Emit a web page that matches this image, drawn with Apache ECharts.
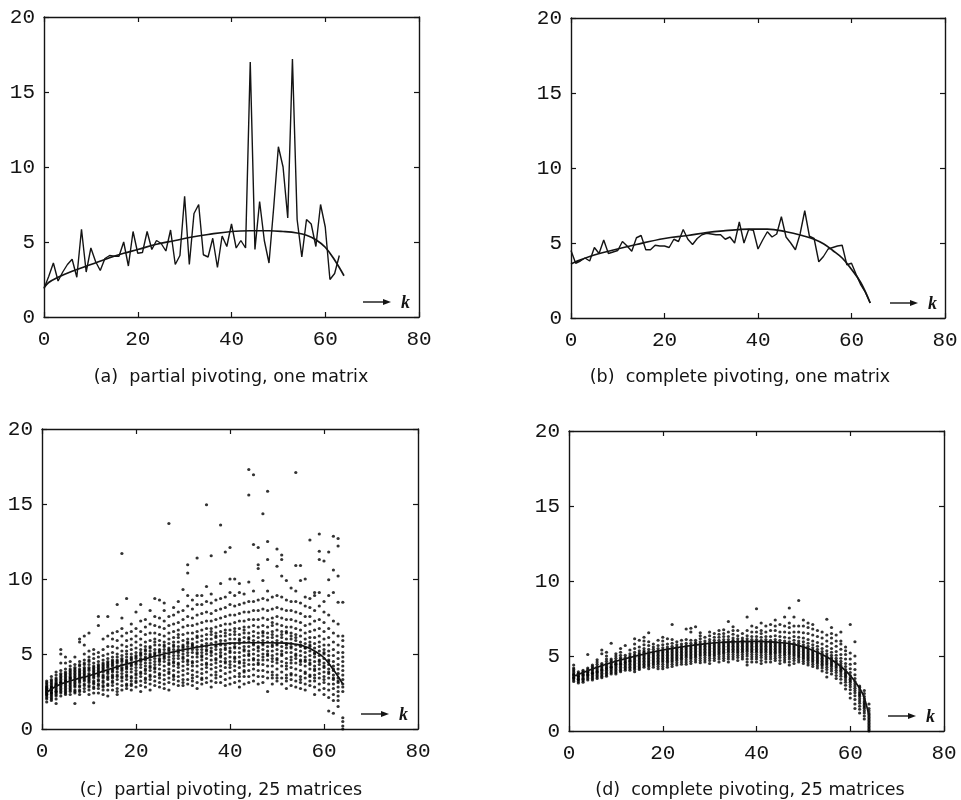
<!DOCTYPE html>
<html><head><meta charset="utf-8">
<script src="https://cdn.jsdelivr.net/npm/echarts@6/dist/echarts.min.js"></script>
<style>html,body{margin:0;padding:0;background:#fff}#c{width:961px;height:800px}</style>
</head><body><div id="c"></div>
<script>
// ---- tick labels ----
const xTicks = [0, 20, 40, 60, 80];
const yTicks = [0, 5, 10, 15, 20];
const captions = [
  '(a)  partial pivoting, one matrix',
  '(b)  complete pivoting, one matrix',
  '(c)  partial pivoting, 25 matrices',
  '(d)  complete pivoting, 25 matrices'
];
const axisName = 'k';

// ---- (a) partial pivoting, one matrix: values at k = 0..63 ----
const lineA = [1.9,2.7,3.6,2.4,3.0,3.5,3.85,2.65,5.85,3.0, 4.6,3.7,3.1,3.9,4.1,4.05,4.05,5.0,3.4,5.7,
  4.25,4.3,5.7,4.5,5.1,4.9,4.4,5.8,3.5,4.1, 8.05,3.5,6.9,7.5,4.15,4.0,5.25,3.3,5.4,4.7,
  6.2,4.6,5.1,4.6,17.0,4.5,7.7,5.1,3.6,7.3, 11.35,10.0,6.6,17.2,6.5,4.0,6.5,6.2,4.7,7.5,
  6.0,2.5,2.9,4.1];
const curveA_k = [0,1,3,6,10,14,17,20,24,28,31,35,40,44,48,51,54,56,58,60,62,64];
const curveA_v = [1.95,2.3,2.65,3.05,3.5,3.95,4.25,4.5,4.85,5.1,5.3,5.5,5.7,5.75,5.75,5.7,5.6,5.45,5.15,4.65,3.8,2.75];

// ---- (b) complete pivoting, one matrix: values at k = 0..64 ----
const lineB = [4.5,3.65,3.8,4.0,3.8,4.7,4.3,5.2,4.3,4.4, 4.5,5.1,4.8,4.45,5.35,5.5,4.55,4.55,4.85,4.8,
  4.8,4.7,5.25,5.1,5.9,5.25,4.9,5.3,5.55,5.65, 5.6,5.55,5.55,5.25,5.4,5.0,6.4,5.0,5.9,5.85,
  4.6,5.2,5.75,5.4,5.6,6.75,5.4,5.0,4.55,5.6, 7.15,5.45,5.3,3.75,4.1,4.6,4.7,4.8,4.85,3.55,
  3.65,2.9,2.2,1.7,1.0];
const curveB_k = [0,1,4,8,14,20,25,29,33,38,42,46,50,52,54,56,58,60,62,64];
const curveB_v = [3.6,3.75,4.1,4.45,4.9,5.3,5.5,5.7,5.82,5.92,5.92,5.75,5.45,5.25,4.95,4.5,4.0,3.25,2.35,1.0];

// ---- (c) partial pivoting, 25 matrices: one list per k = 1..64 ----
const dotsC = [
[2.0,2.2,2.3,2.4,2.5,2.5,2.6,2.7,2.8,2.9,3.0,3.1,2.1,2.4,2.6,2.8,1.8,3.2,2.3,2.7],
[2.1,2.3,2.4,2.6,2.7,2.8,2.9,3.0,3.2,3.3,2.5,2.2,2.0,3.5,2.6,2.8,1.9,3.1,2.4,2.7],
[1.7,2.2,2.4,2.5,2.7,2.9,3.0,3.1,3.3,3.4,3.6,2.6,2.8,2.3,3.2,2.0,3.8,2.9,2.5,3.0],
[2.2,2.5,2.7,2.9,3.1,3.2,3.4,3.5,3.7,3.9,4.4,5.0,5.3,2.8,3.0,3.3,2.4,3.6,2.6,3.1],
[2.3,2.6,2.8,3.0,3.2,3.3,3.5,3.6,3.8,4.0,4.4,4.8,2.5,2.9,3.1,3.4,2.7,3.7,2.4,3.2],
[2.3,2.5,2.8,3.0,3.2,3.4,3.5,3.7,3.9,4.2,4.5,2.6,2.9,3.3,3.6,2.7,3.1,3.8,4.0,3.4],
[1.7,2.4,2.6,2.9,3.1,3.3,3.5,3.7,3.9,4.1,4.3,4.8,2.8,3.0,3.4,3.6,2.5,3.2,3.8,4.0],
[2.3,2.6,2.9,3.1,3.3,3.5,3.6,3.8,4.0,4.2,4.5,5.8,6.0,2.8,3.2,3.4,3.7,3.9,2.5,4.3],
[2.5,2.7,3.0,3.2,3.4,3.6,3.8,3.9,4.1,4.3,4.6,5.0,5.6,6.2,2.9,3.3,3.7,4.0,3.5,4.4],
[2.3,2.6,2.9,3.1,3.3,3.5,3.7,3.9,4.1,4.3,4.5,4.8,5.2,6.4,2.8,3.4,3.6,4.0,3.2,4.6],
[1.75,2.4,2.8,3.0,3.2,3.4,3.6,3.8,4.0,4.2,4.4,4.7,5.0,5.3,3.1,3.5,3.9,4.1,2.7,3.7],
[2.4,2.7,3.0,3.3,3.5,3.7,3.9,4.1,4.3,4.5,4.8,5.1,6.9,7.5,3.2,3.6,4.0,4.2,2.9,3.8],
[2.3,2.6,2.9,3.2,3.4,3.6,3.8,4.0,4.2,4.4,4.6,4.9,5.3,6.0,3.1,3.5,3.9,4.3,2.8,4.1],
[2.2,2.6,3.0,3.3,3.5,3.7,3.9,4.1,4.3,4.5,4.7,5.0,5.5,6.2,7.5,3.4,3.8,4.2,2.9,4.4],
[2.6,2.9,3.1,3.4,3.6,3.8,4.0,4.2,4.4,4.6,4.8,5.1,5.5,6.0,6.4,3.5,3.9,4.3,3.2,4.5],
[2.3,2.7,3.0,3.3,3.6,3.8,4.0,4.2,4.4,4.6,4.8,5.0,5.4,5.9,6.5,8.3,3.5,4.1,4.5,2.5],
[2.6,2.9,3.2,3.5,3.7,3.9,4.1,4.3,4.5,4.7,4.9,5.2,5.6,6.2,6.7,7.4,11.7,3.4,4.0,4.6],
[2.7,3.0,3.3,3.5,3.8,4.0,4.2,4.4,4.6,4.8,5.0,5.2,5.5,5.9,6.4,8.7,3.6,4.1,4.5,2.9],
[2.6,2.9,3.2,3.5,3.8,4.0,4.2,4.4,4.6,4.8,5.0,5.3,5.6,6.0,6.5,7.0,3.4,4.3,4.7,3.0],
[2.8,3.1,3.4,3.7,3.9,4.1,4.3,4.5,4.7,4.9,5.1,5.4,5.8,6.2,6.7,7.8,3.6,4.4,4.8,3.2],
[2.5,2.9,3.2,3.5,3.8,4.1,4.3,4.5,4.7,4.9,5.1,5.3,5.6,6.0,6.5,7.2,8.3,3.7,4.6,5.0],
[2.8,3.1,3.4,3.7,4.0,4.2,4.4,4.6,4.8,5.0,5.2,5.5,5.8,6.3,6.8,7.3,3.9,4.7,5.3,3.3],
[2.6,3.0,3.3,3.6,3.9,4.2,4.4,4.6,4.8,5.0,5.2,5.5,5.9,6.4,7.0,7.9,4.1,4.9,5.4,3.5],
[2.9,3.2,3.5,3.8,4.1,4.3,4.5,4.7,4.9,5.1,5.3,5.6,6.0,6.4,6.9,7.5,8.7,4.0,5.0,5.8],
[2.8,3.1,3.4,3.7,4.0,4.3,4.5,4.7,4.9,5.1,5.3,5.6,5.9,6.3,6.8,7.4,8.6,4.6,5.2,3.6],
[2.7,3.0,3.3,3.6,3.9,4.2,4.5,4.7,4.9,5.1,5.3,5.5,5.8,6.2,6.7,7.2,7.9,8.4,4.8,5.6],
[2.6,3.1,3.4,3.7,4.0,4.3,4.6,4.8,5.0,5.2,5.4,5.7,6.0,6.4,6.9,7.5,13.7,4.4,5.3,3.8],
[3.0,3.3,3.6,3.9,4.2,4.5,4.7,4.9,5.1,5.3,5.5,5.8,6.1,6.5,7.0,7.6,8.1,4.4,5.6,3.5],
[2.9,3.2,3.5,3.8,4.1,4.4,4.7,4.9,5.1,5.3,5.5,5.8,6.1,6.6,7.1,7.8,8.5,4.3,5.2,6.3],
[2.9,3.3,3.6,3.9,4.2,4.5,4.8,5.0,5.2,5.4,5.6,5.9,6.3,6.8,7.3,7.9,9.3,4.7,5.5,3.1],
[3.0,3.3,3.7,4.0,4.3,4.6,4.9,5.1,5.3,5.5,5.7,6.0,6.4,6.9,7.5,8.2,8.9,10.4,10.95,4.5,5.8],
[2.9,3.2,3.6,3.9,4.2,4.5,4.8,5.1,5.3,5.5,5.7,6.0,6.4,6.9,7.4,8.0,8.6,4.4,5.6,3.4],
[2.7,3.1,3.5,3.8,4.2,4.5,4.8,5.1,5.3,5.5,5.8,6.1,6.5,7.0,7.6,8.3,8.9,11.4,5.0,6.2],
[3.0,3.4,3.7,4.0,4.3,4.6,4.9,5.1,5.3,5.6,5.9,6.2,6.6,7.1,7.7,8.3,8.9,4.8,5.5,3.3],
[3.1,3.4,3.8,4.1,4.4,4.7,5.0,5.2,5.5,5.7,6.0,6.3,6.7,7.2,7.8,8.5,9.5,14.95,5.3,4.3],
[2.8,3.2,3.6,4.0,4.3,4.6,4.9,5.2,5.4,5.7,6.0,6.3,6.7,7.2,7.7,8.4,9.0,11.55,5.1,6.5],
[3.1,3.4,3.8,4.1,4.4,4.7,5.0,5.3,5.5,5.8,6.1,6.4,6.8,7.3,7.9,8.6,4.6,5.6,3.6,6.2],
[3.1,3.5,3.9,4.2,4.5,4.8,5.1,5.3,5.6,5.9,6.2,6.5,6.9,7.4,8.0,8.7,9.7,13.6,4.9,5.7],
[2.9,3.3,3.7,4.1,4.4,4.7,5.0,5.3,5.6,5.9,6.2,6.6,7.0,7.5,8.1,8.8,11.8,4.5,5.4,6.4],
[3.0,3.4,3.8,4.1,4.5,4.8,5.1,5.4,5.7,6.0,6.3,6.6,7.0,7.6,8.3,9.1,10.0,12.1,5.2,4.3],
[3.1,3.5,3.9,4.2,4.5,4.8,5.1,5.4,5.7,6.0,6.3,6.7,7.1,7.6,8.2,8.9,10.0,4.7,5.5,6.5],
[2.8,3.2,3.7,4.1,4.5,4.8,5.1,5.4,5.7,6.0,6.3,6.7,7.2,7.7,8.3,9.1,9.7,4.4,5.9,3.5],
[3.0,3.5,3.9,4.2,4.6,4.9,5.2,5.5,5.8,6.1,6.4,6.8,7.2,7.8,8.4,9.0,3.8,5.3,6.6,4.4],
[3.1,3.5,3.9,4.3,4.6,4.9,5.2,5.5,5.8,6.1,6.4,6.8,7.3,7.8,8.5,9.8,15.6,17.3,5.0,6.0],
[3.2,3.6,4.0,4.3,4.7,5.0,5.3,5.6,5.9,6.2,6.5,6.9,7.3,7.9,8.5,9.2,12.3,16.95,4.6,5.7],
[3.0,3.5,3.9,4.3,4.6,4.9,5.2,5.5,5.8,6.1,6.4,6.8,7.3,7.9,8.6,10.7,10.95,12.1,5.4,4.4],
[3.1,3.5,3.9,4.3,4.6,5.0,5.3,5.6,5.9,6.2,6.5,6.9,7.4,8.0,8.7,9.9,14.35,4.8,5.7,6.4],
[2.5,3.4,3.8,4.2,4.6,4.9,5.2,5.5,5.8,6.1,6.4,6.8,7.3,7.9,8.6,9.2,11.3,12.5,15.85,5.0],
[3.0,3.4,3.8,4.2,4.5,4.9,5.2,5.5,5.8,6.1,6.5,6.9,7.4,8.0,8.8,4.7,5.6,6.3,3.6,7.1],
[3.2,3.6,4.0,4.4,4.7,5.0,5.3,5.6,5.9,6.2,6.6,7.0,7.5,8.1,8.9,10.85,12.0,4.6,5.7,3.4],
[3.0,3.4,3.8,4.2,4.5,4.9,5.2,5.5,5.8,6.1,6.5,6.9,7.4,8.0,8.8,10.2,11.3,11.6,5.0,6.3],
[2.7,3.2,3.6,4.0,4.4,4.7,5.1,5.4,5.7,6.0,6.4,6.8,7.3,7.9,8.6,9.9,4.2,5.6,6.5,3.4],
[2.9,3.3,3.7,4.1,4.4,4.8,5.1,5.4,5.7,6.0,6.4,6.8,7.3,7.9,8.5,9.4,4.6,5.5,6.2,3.6],
[2.8,3.2,3.6,4.0,4.4,4.7,5.0,5.3,5.6,5.9,6.3,6.7,7.2,7.8,8.5,9.2,10.9,17.1,4.9,6.1],
[2.7,3.1,3.5,3.9,4.3,4.6,4.9,5.2,5.5,5.8,6.2,6.6,7.1,7.7,8.4,9.9,10.9,4.5,5.6,3.3],
[2.6,3.0,3.4,3.8,4.2,4.5,4.8,5.1,5.4,5.7,6.0,6.4,6.9,7.5,8.2,8.8,10.0,4.6,5.4,3.7],
[2.9,3.2,3.6,4.0,4.3,4.6,4.9,5.2,5.5,5.8,6.1,6.5,7.0,7.5,8.1,8.7,12.6,4.4,5.6,3.5],
[2.3,2.8,3.2,3.6,3.9,4.2,4.5,4.8,5.1,5.4,5.7,6.1,6.6,7.2,7.9,8.9,9.1,4.0,5.0,3.4],
[2.6,3.0,3.4,3.7,4.0,4.3,4.6,4.9,5.2,5.5,5.8,6.2,6.7,7.3,8.2,9.1,11.3,11.85,13.0,4.5],
[2.3,2.7,3.1,3.5,3.8,4.1,4.4,4.7,5.0,5.3,5.6,6.0,6.5,7.1,7.8,8.5,11.2,4.2,5.1,3.3],
[1.2,2.1,2.6,3.0,3.4,3.7,4.0,4.3,4.6,4.9,5.2,5.6,6.1,6.7,7.6,8.9,9.95,11.8,3.8,4.5],
[1.05,1.9,2.3,2.7,3.0,3.3,3.6,3.9,4.2,4.5,4.9,5.3,5.8,6.4,7.2,9.1,10.6,12.85,3.4,4.0],
[1.5,1.9,2.2,2.5,2.8,3.1,3.4,3.7,4.0,4.3,4.7,5.1,5.6,6.2,7.0,8.45,10.2,12.2,12.7,3.2],
[0.0,0.2,0.5,0.75,2.5,2.8,3.0,3.3,3.6,3.9,4.2,4.5,4.8,5.1,5.5,5.9,6.2,8.45]
];
const curveC_k = [1,3,5,7,10,13,16,20,24,28,32,36,40,44,48,52,54,56,58,60,62,63,64];
const curveC_v = [2.45,2.85,3.1,3.3,3.55,3.85,4.15,4.5,4.85,5.15,5.4,5.6,5.72,5.75,5.75,5.72,5.65,5.5,5.2,4.75,3.95,3.5,3.0];

// ---- (d) complete pivoting, 25 matrices: one list per k = 1..64 ----
const dotsD = [
[3.3,3.4,3.5,3.55,3.6,3.7,3.75,3.8,3.9,4.0,4.1,4.2,4.4],
[3.2,3.3,3.4,3.45,3.5,3.6,3.65,3.7,3.8,3.85,3.95],
[3.25,3.35,3.45,3.5,3.6,3.7,3.75,3.8,3.9,3.95,4.05],
[3.4,3.5,3.6,3.7,3.75,3.8,3.9,3.95,4.0,4.1,4.2,5.1],
[3.4,3.5,3.6,3.7,3.8,3.85,3.9,4.0,4.1,4.2,4.3,4.4],
[3.5,3.6,3.7,3.8,3.9,3.95,4.0,4.1,4.2,4.3,4.45,4.6,4.75],
[3.55,3.65,3.75,3.85,3.95,4.05,4.1,4.2,4.3,4.4,4.5,5.15,5.4],
[3.65,3.75,3.85,3.95,4.05,4.15,4.2,4.3,4.4,4.5,4.65,4.8,5.0,5.25],
[3.8,3.9,4.0,4.1,4.2,4.25,4.3,4.4,4.5,4.6,4.7,4.8,5.85],
[3.8,3.9,4.0,4.1,4.2,4.3,4.4,4.45,4.5,4.6,4.7,4.85,5.0,5.15],
[3.95,4.05,4.15,4.25,4.35,4.45,4.5,4.6,4.7,4.8,4.9,5.05,5.25,5.5],
[4.05,4.15,4.25,4.35,4.45,4.55,4.6,4.7,4.8,4.9,5.05,5.7],
[4.05,4.15,4.25,4.35,4.45,4.55,4.65,4.7,4.8,4.9,5.0,5.15,5.4],
[3.95,4.1,4.2,4.3,4.4,4.5,4.6,4.7,4.8,4.9,5.0,5.1,5.25,5.5,5.8,6.15],
[4.1,4.2,4.3,4.4,4.5,4.6,4.7,4.8,4.9,5.0,5.1,5.2,5.35,5.6,6.05],
[4.25,4.35,4.45,4.55,4.65,4.75,4.85,4.95,5.05,5.15,5.25,5.35,5.5,5.75,6.0,6.25],
[4.15,4.3,4.4,4.5,4.6,4.7,4.8,4.9,5.0,5.1,5.2,5.3,5.45,5.7,5.95,6.55],
[4.25,4.4,4.5,4.6,4.7,4.8,4.9,5.0,5.1,5.2,5.3,5.45,5.6,5.8],
[4.15,4.3,4.45,4.55,4.65,4.75,4.85,4.95,5.05,5.15,5.25,5.35,5.5,5.7,6.05],
[4.15,4.3,4.45,4.6,4.7,4.8,4.9,5.0,5.1,5.2,5.3,5.4,5.55,5.75,6.0,6.25],
[4.25,4.4,4.55,4.65,4.75,4.85,4.95,5.05,5.15,5.25,5.35,5.45,5.6,5.8,6.15],
[4.3,4.45,4.6,4.7,4.8,4.9,5.0,5.1,5.2,5.3,5.4,5.5,5.65,5.85,6.1,7.1],
[4.4,4.55,4.7,4.8,4.9,5.0,5.1,5.2,5.3,5.4,5.5,5.6,5.75,5.95],
[4.45,4.6,4.75,4.85,4.95,5.05,5.15,5.25,5.35,5.45,5.55,5.65,5.8,6.05],
[4.45,4.6,4.75,4.9,5.0,5.1,5.2,5.3,5.4,5.5,5.6,5.7,5.85,6.1,6.8],
[4.5,4.65,4.8,4.9,5.0,5.1,5.2,5.3,5.4,5.5,5.6,5.7,5.85,6.05,6.6,6.85],
[4.6,4.75,4.9,5.0,5.1,5.2,5.3,5.4,5.5,5.6,5.7,5.8,5.9,6.05,6.95],
[4.55,4.7,4.85,5.0,5.1,5.2,5.3,5.4,5.5,5.6,5.7,5.8,5.95,6.15,6.35,6.55],
[4.6,4.75,4.9,5.05,5.15,5.25,5.35,5.45,5.55,5.65,5.75,5.85,6.0,6.25],
[4.5,4.7,4.85,5.0,5.1,5.2,5.3,5.4,5.5,5.6,5.7,5.8,5.95,6.1,6.35,6.6],
[4.7,4.85,5.0,5.1,5.2,5.3,5.4,5.5,5.6,5.7,5.8,5.9,6.05,6.25,6.5],
[4.6,4.8,4.95,5.1,5.2,5.3,5.4,5.5,5.6,5.7,5.8,5.9,6.05,6.25,6.45,6.7],
[4.7,4.85,5.0,5.15,5.25,5.35,5.45,5.55,5.65,5.75,5.85,5.95,6.1,6.3,6.5,6.75],
[4.6,4.8,4.95,5.1,5.25,5.35,5.45,5.55,5.65,5.75,5.85,5.95,6.1,6.3,6.6,7.3],
[4.8,4.95,5.1,5.25,5.35,5.45,5.55,5.65,5.75,5.85,5.95,6.05,6.2,6.45,6.7,6.95],
[4.7,4.9,5.05,5.2,5.3,5.4,5.5,5.6,5.7,5.8,5.9,6.0,6.15,6.35,6.7],
[4.8,4.95,5.1,5.25,5.35,5.45,5.55,5.65,5.75,5.85,5.95,6.05,6.2,6.5],
[4.4,4.6,4.8,5.0,5.15,5.3,5.4,5.5,5.6,5.7,5.8,5.9,6.0,6.15,6.35,6.7,7.6],
[4.6,4.8,4.95,5.1,5.25,5.35,5.45,5.55,5.65,5.75,5.85,5.95,6.1,6.3,6.6,7.0],
[4.6,4.8,4.95,5.1,5.25,5.35,5.45,5.55,5.65,5.75,5.85,5.95,6.1,6.3,6.6,6.9,8.15],
[4.5,4.7,4.9,5.05,5.2,5.3,5.4,5.5,5.6,5.7,5.8,5.9,6.05,6.25,6.5,6.7,7.2],
[4.6,4.8,4.95,5.1,5.25,5.35,5.45,5.55,5.65,5.75,5.85,5.95,6.1,6.3,6.6,7.0],
[4.6,4.8,4.95,5.1,5.2,5.3,5.4,5.5,5.6,5.7,5.8,5.9,6.05,6.3,6.7,7.1],
[4.7,4.85,5.0,5.15,5.25,5.35,5.45,5.55,5.65,5.75,5.85,5.95,6.1,6.35,6.7,7.0,7.4],
[4.5,4.7,4.9,5.05,5.2,5.3,5.4,5.5,5.6,5.7,5.8,5.9,6.05,6.3,6.6,7.1],
[4.6,4.75,4.9,5.05,5.15,5.25,5.35,5.45,5.55,5.65,5.75,5.85,6.0,6.25,6.6,7.0,7.6],
[4.4,4.6,4.8,4.95,5.1,5.2,5.3,5.4,5.5,5.6,5.7,5.8,5.95,6.2,6.55,6.9,7.2,8.2],
[4.5,4.7,4.85,5.0,5.1,5.2,5.3,5.4,5.5,5.6,5.7,5.85,6.05,6.3,6.6,7.0,7.6],
[4.6,4.75,4.9,5.0,5.1,5.2,5.3,5.4,5.5,5.6,5.7,5.85,6.0,6.25,6.6,7.0,8.7],
[4.5,4.65,4.8,4.9,5.0,5.1,5.2,5.3,5.4,5.5,5.6,5.75,5.95,6.2,6.55,7.0,7.4],
[4.4,4.55,4.7,4.8,4.9,5.0,5.1,5.2,5.3,5.4,5.5,5.65,5.85,6.1,6.5,6.9,7.2],
[4.3,4.45,4.6,4.7,4.8,4.9,5.0,5.1,5.2,5.3,5.4,5.55,5.75,6.0,6.4,6.8,7.1],
[4.2,4.35,4.5,4.6,4.7,4.8,4.9,5.0,5.1,5.2,5.3,5.45,5.65,5.9,6.3,6.7],
[4.0,4.2,4.35,4.45,4.55,4.65,4.75,4.85,4.95,5.05,5.15,5.3,5.5,5.8,6.2,6.6],
[3.6,3.9,4.1,4.25,4.4,4.5,4.6,4.7,4.8,4.9,5.0,5.15,5.35,5.65,6.0,6.4,7.45],
[3.8,4.0,4.15,4.3,4.4,4.5,4.6,4.7,4.8,4.9,5.05,5.25,5.5,5.85,6.2,6.5,6.9],
[3.5,3.7,3.9,4.05,4.2,4.3,4.4,4.5,4.6,4.7,4.85,5.05,5.3,5.65,6.0,6.4],
[3.2,3.45,3.65,3.8,3.95,4.05,4.15,4.25,4.35,4.5,4.65,4.85,5.1,5.45,5.8,6.0,6.6],
[2.8,3.05,3.25,3.4,3.55,3.65,3.75,3.85,3.95,4.1,4.3,4.5,4.8,5.1,5.35,5.6],
[2.2,2.5,2.75,2.95,3.1,3.25,3.35,3.45,3.55,3.7,3.9,4.15,4.45,4.8,5.2,7.1],
[1.5,1.8,2.1,2.35,2.55,2.7,2.85,3.0,3.15,3.3,3.5,3.75,4.1,4.5,5.0,5.95],
[1.2,1.45,1.65,1.85,2.0,2.15,2.3,2.4,2.5,2.6,2.75,2.9,3.0],
[0.8,1.0,1.2,1.35,1.5,1.6,1.7,1.8,1.9,2.0,2.15,2.3,2.5,2.7],
[0.0,0.1,0.2,0.3,0.4,0.5,0.6,0.7,0.8,0.9,1.0,1.1,1.2,1.35,1.5,1.8]
];
const curveD_k = [1,3,6,10,13,17,20,24,28,32,36,40,44,48,51,54,56,58,60,62,63,64];
const curveD_v = [3.65,3.9,4.25,4.65,4.9,5.2,5.4,5.6,5.78,5.9,5.95,5.98,5.92,5.78,5.5,5.1,4.75,4.3,3.7,2.85,2.2,1.0];

// ---- layout ----
const grids = [
  {left: 44, top: 17, width: 375, height: 300},
  {left: 571, top: 18, width: 374, height: 300},
  {left: 42, top: 429, width: 376, height: 300},
  {left: 569, top: 431, width: 375, height: 300}
];
const captionPos = [[231, 377], [740, 377], [221, 790], [750, 790]];

const INK = '#141414';
const chart = echarts.init(document.getElementById('c'), null, {renderer: 'canvas'});
const xAxes = [], yAxes = [], series = [], graphics = [];
const tickStyle = {show: true, inside: true, length: 5, lineStyle: {color: INK, width: 1.2}};
const lineStyleAx = {show: true, onZero: false, lineStyle: {color: INK, width: 1.4}};
const labelFont = {fontFamily: '"Liberation Mono", "DejaVu Sans Mono", monospace', fontSize: 21, color: INK};

grids.forEach((g, i) => {
  const xBase = {type: 'value', gridIndex: i, min: xTicks[0], max: xTicks[xTicks.length - 1], interval: xTicks[1] - xTicks[0],
    axisLine: lineStyleAx, axisTick: tickStyle, splitLine: {show: false}};
  const yBase = {type: 'value', gridIndex: i, min: yTicks[0], max: yTicks[yTicks.length - 1], interval: yTicks[1] - yTicks[0],
    axisLine: lineStyleAx, axisTick: tickStyle, splitLine: {show: false}};
  xAxes.push(Object.assign({}, xBase, {position: 'bottom', axisLabel: Object.assign({margin: 12}, labelFont)}));
  xAxes.push(Object.assign({}, xBase, {position: 'top', axisLabel: {show: false}}));
  yAxes.push(Object.assign({}, yBase, {position: 'left', axisLabel: Object.assign({margin: 9}, labelFont)}));
  yAxes.push(Object.assign({}, yBase, {position: 'right', axisLabel: {show: false}}));

  // arrow "-> k"
  const bx = g.left, by = g.top + g.height;
  const ay = by - 15;
  graphics.push({type: 'line', shape: {x1: bx + 319, y1: ay, x2: bx + 341, y2: ay}, style: {stroke: INK, lineWidth: 1.4}, silent: true});
  graphics.push({type: 'polygon', shape: {points: [[bx + 347, ay], [bx + 339, ay - 3], [bx + 339, ay + 3]]}, style: {fill: INK}, silent: true});
  graphics.push({type: 'text', x: bx + 357, y: ay + 1, style: {text: axisName, font: 'italic bold 18px "Liberation Serif", "DejaVu Serif", serif', fill: INK, textVerticalAlign: 'middle', textAlign: 'left'}, silent: true});
  // caption
  graphics.push({type: 'text', x: captionPos[i][0], y: captionPos[i][1], style: {text: captions[i], font: '17.5px "DejaVu Sans", "Liberation Sans", sans-serif', fill: INK, textAlign: 'center', textVerticalAlign: 'middle'}, silent: true});
});

function pairs(ks, vs) { return ks.map((k, j) => [k, vs[j]]); }
function scatterPts(cols) { const out = []; cols.forEach((col, j) => col.forEach(v => out.push([j + 1, v]))); return out; }

const lineOpts = {type: 'line', symbol: 'none', animation: false, silent: true};
series.push(Object.assign({}, lineOpts, {xAxisIndex: 0, yAxisIndex: 0, data: lineA.map((v, k) => [k, v]), lineStyle: {color: INK, width: 1.4}}));
series.push(Object.assign({}, lineOpts, {xAxisIndex: 0, yAxisIndex: 0, smooth: 0.4, data: pairs(curveA_k, curveA_v), lineStyle: {color: INK, width: 1.7}}));
series.push(Object.assign({}, lineOpts, {xAxisIndex: 2, yAxisIndex: 2, data: lineB.map((v, k) => [k, v]), lineStyle: {color: INK, width: 1.4}}));
series.push(Object.assign({}, lineOpts, {xAxisIndex: 2, yAxisIndex: 2, smooth: 0.4, data: pairs(curveB_k, curveB_v), lineStyle: {color: INK, width: 1.7}}));

const scatOpts = {type: 'scatter', symbol: 'circle', symbolSize: 3.2, itemStyle: {color: '#000'}, animation: false, silent: true};
series.push(Object.assign({}, scatOpts, {xAxisIndex: 4, yAxisIndex: 4, data: scatterPts(dotsC)}));
series.push(Object.assign({}, lineOpts, {xAxisIndex: 4, yAxisIndex: 4, smooth: 0.4, data: pairs(curveC_k, curveC_v), lineStyle: {color: INK, width: 1.7}}));
series.push(Object.assign({}, scatOpts, {xAxisIndex: 6, yAxisIndex: 6, data: scatterPts(dotsD)}));
series.push(Object.assign({}, lineOpts, {xAxisIndex: 6, yAxisIndex: 6, smooth: 0.4, data: pairs(curveD_k, curveD_v), lineStyle: {color: INK, width: 1.7}}));

chart.setOption({
  backgroundColor: '#ffffff',
  animation: false,
  grid: grids.map(g => Object.assign({containLabel: false}, g)),
  xAxis: xAxes,
  yAxis: yAxes,
  series: series,
  graphic: graphics
});
</script>
</body></html>
